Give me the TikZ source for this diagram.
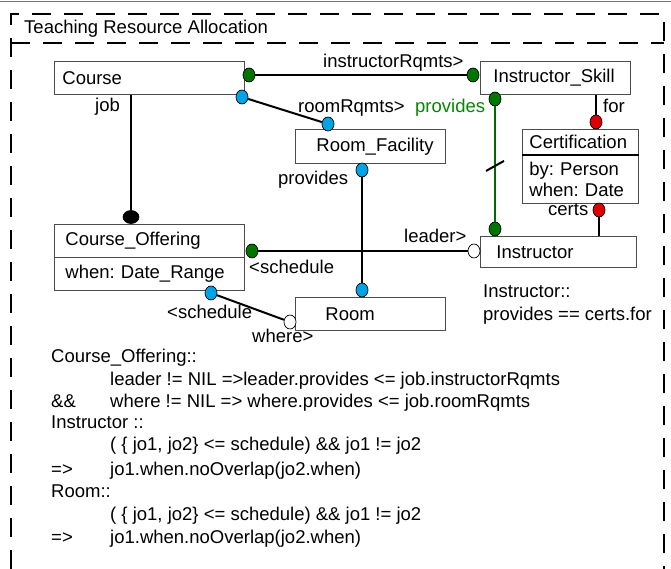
\documentclass[tikz,border=0pt]{standalone}
\usepackage{fontspec}
\setmainfont{Liberation Sans}
\usetikzlibrary{calc,shapes.geometric}
\definecolor{dotgreen}{RGB}{0,118,0}
\definecolor{dotblue}{RGB}{0,164,228}
\definecolor{dotred}{RGB}{222,0,0}
\definecolor{txtgreen}{RGB}{0,136,0}
\definecolor{linkgreen}{RGB}{0,105,0}
\frenchspacing
\tikzset{
	umlbox/.style={draw=black!70, line width=0.8pt, anchor=north west, inner ysep=0pt, align=left},
	dotend/.style={ellipse, draw=black, line width=0.7pt, minimum width=12pt, minimum height=14pt, inner sep=0pt},
	link/.style={line width=2pt},
	lbl/.style={anchor=base west, inner sep=0pt},
	dashframe/.style={line width=2.6pt, dash pattern=on 19pt off 13pt}
}

\begin{document}
\begin{tikzpicture}[x=1pt, y=-1pt, font=\fontsize{18.5}{21}\selectfont]
			%%%%% START %%%%%
			\useasboundingbox (0,0) rectangle (671,569);
			
			\draw[black!55, line width=1pt] (0,2) -- (671,2);
			\draw[dashframe] (11,569) -- (11,14) -- (664,14) -- (664,569);
			\draw[dashframe] (11,43) -- (664,43);
			\node[lbl] (title) at (24,34) {Teaching Resource Allocation};
			
			\node[umlbox, text width=174pt, inner xsep=8pt, minimum height=33pt] (course) at (54,61) {Course};
			\node[umlbox, text width=124pt, inner xsep=13pt, minimum height=33pt] (skill) at (480,61) {Instructor\_Skill};
			\node[umlbox, text width=108pt, inner xsep=21pt, minimum height=34pt] (facility) at (295,129) {Room\_Facility};
			\node[umlbox, text width=90pt, inner xsep=30pt, minimum height=33pt] (room) at (295,297) {Room};
			\node[umlbox, text width=124pt, inner xsep=16pt, minimum height=31pt] (instr) at (480,236) {Instructor};
			\node[umlbox, text width=168pt, inner xsep=11pt, minimum height=33pt] (offering) at (54,224) {Course\_Offering};
			\node[umlbox, text width=168pt, inner xsep=11pt, minimum height=33pt] (offeringAttr) at (54,257) {when: Date\_Range};
			\node[umlbox, text width=102pt, inner xsep=7pt, minimum height=25pt] (cert) at (522,129) {Certification};
			\node[umlbox, text width=102pt, inner xsep=7pt, minimum height=49pt] (certAttr) at (522,154) {by: Person\\when: Date};
			\draw[line width=1.8pt] (cert.south west) -- (cert.south east);
			
			\node[dotend, fill=dotgreen] (cGreen) at (249,75) {};
			\node[dotend, fill=dotgreen] (skillLeft) at (473,75) {};
			\node[dotend, fill=dotblue] (cBlue) at (242,97) {};
			\node[dotend, fill=dotblue] (facTop) at (328,124) {};
			\node[dotend, fill=dotgreen] (skillBot) at (495,99) {};
			\node[dotend, fill=dotgreen] (instrTop) at (495,229) {};
			\node[dotend, fill=dotred] (forDot) at (596,122) {};
			\node[dotend, fill=dotred] (certsDot) at (599,210) {};
			\node[dotend, fill=black, minimum width=16pt, minimum height=13pt] (jobDot) at (131,217) {};
			\node[dotend, fill=dotblue] (facBot) at (362,170) {};
			\node[dotend, fill=dotblue] (roomTop) at (362,290) {};
			\node[dotend, fill=dotgreen] (offGreen) at (252,251) {};
			\node[dotend, fill=white] (instrLeft) at (474,251) {};
			\node[dotend, fill=dotblue] (offBlue) at (211,293) {};
			\node[dotend, fill=white] (roomLeft) at (290,322) {};
			
			\draw[link] (cGreen) -- (skillLeft);
			\draw[link] (cBlue) -- (facTop);
			\draw[link, draw=linkgreen] (skillBot) -- (instrTop);
			\draw[link] ($(skillBot)!0.515!(instrTop)$) ++(-9,5) -- ++(18,-10);
			\draw[link] (forDot) -- (forDot |- skill.south);
			\draw[link] (certsDot) -- (certsDot |- instr.north);
			\draw[link] (jobDot) -- (jobDot |- course.south);
			\draw[link] (facBot) -- (roomTop);
			\draw[link] (offGreen) -- (instrLeft);
			\draw[link] (offBlue) -- (roomLeft);
			
			\node[lbl] (lJob) at (95,112) {job};
			\node[lbl] (lInstrRq) at (323,68) {instructorRqmts>};
			\node[lbl] (lRoomRq) at (298,113) {roomRqmts>};
			\node[lbl, text=txtgreen] (lProvG) at (415,113) {provides};
			\node[lbl] (lFor) at (603,113) {for};
			\node[lbl] (lProvB) at (278,185) {provides};
			\node[lbl] (lCerts) at (548,216) {certs};
			\node[lbl] (lLeader) at (404,243) {leader>};
			\node[lbl] (lSchedA) at (249,273) {<schedule};
			\node[lbl] (lSchedB) at (167,318) {<schedule};
			\node[lbl] (lWhere) at (252,342) {where>};
			\node[lbl] (invA) at (483,297) {Instructor::};
			\node[lbl] (invB) at (483,320) {provides == certs.for};
			
			\node[lbl] (ruleA) at (51,362) {Course\_Offering::};
			\node[lbl] (ruleB) at (110,385) {leader != NIL =>leader.provides <= job.instructorRqmts};
			\node[lbl] (ruleC) at (51,407) {\&\&};
			\node[lbl] (ruleD) at (110,407) {where != NIL => where.provides <= job.roomRqmts};
			\node[lbl] (ruleE) at (51,428) {Instructor ::};
			\node[lbl] (ruleF) at (110,450) {( \{ jo1, jo2\} <= schedule) \&\& jo1 != jo2};
			\node[lbl] (ruleG) at (51,475) {=>};
			\node[lbl] (ruleH) at (110,475) {jo1.when.noOverlap(jo2.when)};
			\node[lbl] (ruleI) at (51,497) {Room::};
			\node[lbl] (ruleJ) at (110,520) {( \{ jo1, jo2\} <= schedule) \&\& jo1 != jo2};
			\node[lbl] (ruleK) at (51,543) {=>};
			\node[lbl] (ruleL) at (110,543) {jo1.when.noOverlap(jo2.when)};
			%%%%% END %%%%%
\end{tikzpicture}
\end{document}
